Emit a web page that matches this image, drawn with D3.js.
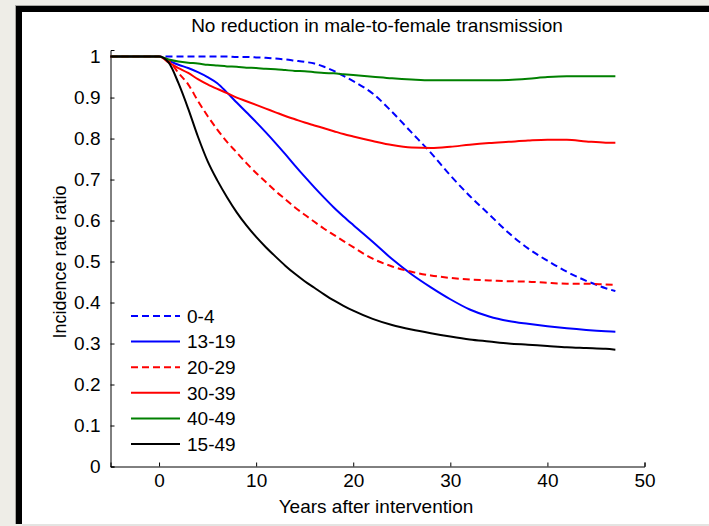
<!DOCTYPE html>
<html><head><meta charset="utf-8">
<script src="https://cdn.jsdelivr.net/npm/d3@7"></script>
<style>
html,body{margin:0;padding:0;background:#eeede7;}
svg{display:block;}
text{font-family:"Liberation Sans",Arial,Helvetica,sans-serif;fill:#000;}
</style></head>
<body><svg id="c" width="709" height="526"></svg>
<script>
const title = "No reduction in male-to-female transmission";
const xLabel = "Years after intervention";
const yLabel = "Incidence rate ratio";
const xTicks = [0,10,20,30,40,50];
const yTicks = [0,0.1,0.2,0.3,0.4,0.5,0.6,0.7,0.8,0.9,1];
const years = [-5,0,1,2,3,4,5,6,7,8,9,10,11,12,13,14,15,16,17,18,19,20,22,24,26,28,30,32,34,36,38,40,42,44,46,47];
const seriesNames = ["0-4","13-19","20-29","30-39","40-49","15-49"];
const s04   = [1,1,1,1,1,1,1,1,1,0.999,0.999,0.998,0.997,0.995,0.993,0.99,0.987,0.983,0.975,0.965,0.953,0.94,0.91,0.865,0.815,0.765,0.71,0.66,0.615,0.57,0.532,0.502,0.475,0.453,0.435,0.428];
const s1319 = [1,1,0.99,0.98,0.972,0.962,0.95,0.935,0.912,0.888,0.864,0.84,0.815,0.789,0.762,0.734,0.707,0.681,0.656,0.632,0.61,0.589,0.548,0.506,0.469,0.437,0.408,0.383,0.366,0.355,0.348,0.342,0.337,0.333,0.33,0.329];
const s2029 = [1,1,0.99,0.96,0.932,0.892,0.855,0.822,0.792,0.766,0.74,0.716,0.694,0.672,0.652,0.632,0.614,0.597,0.58,0.565,0.55,0.535,0.507,0.488,0.475,0.466,0.46,0.456,0.454,0.452,0.451,0.448,0.446,0.446,0.444,0.443];
const s3039 = [1,1,0.985,0.972,0.96,0.945,0.932,0.921,0.911,0.9,0.891,0.882,0.873,0.864,0.855,0.847,0.839,0.832,0.825,0.818,0.811,0.805,0.794,0.784,0.778,0.777,0.78,0.785,0.789,0.792,0.795,0.797,0.797,0.793,0.79,0.79];
const s4049 = [1,1,0.993,0.988,0.985,0.983,0.98,0.978,0.976,0.975,0.973,0.972,0.97,0.969,0.967,0.965,0.964,0.962,0.96,0.959,0.957,0.955,0.951,0.947,0.944,0.942,0.942,0.942,0.942,0.943,0.946,0.95,0.952,0.952,0.952,0.952];
const s1549 = [1,1,0.985,0.935,0.873,0.805,0.745,0.698,0.657,0.62,0.588,0.56,0.535,0.512,0.49,0.47,0.452,0.436,0.42,0.405,0.392,0.38,0.36,0.345,0.334,0.325,0.317,0.31,0.305,0.3,0.297,0.294,0.291,0.289,0.287,0.285];
const seriesValues = [s04,s1319,s2029,s3039,s4049,s1549];
const colors = ["#0000ff","#0000ff","#ff0000","#ff0000","#008000","#000000"];
const dashed = [true,false,true,false,false,false];

const svg = d3.select("#c");
// frame
svg.append("rect").attr("x",15).attr("y",5).attr("width",694).attr("height",519).attr("fill","#a8a8a4");
svg.append("rect").attr("x",16).attr("y",6).attr("width",693).attr("height",518).attr("fill","#000");
svg.append("rect").attr("x",22).attr("y",12).attr("width",687).attr("height",512).attr("fill","#fff");
svg.append("rect").attr("x",22).attr("y",524).attr("width",687).attr("height",2).attr("fill","#e4e4e2");

const x = d3.scaleLinear().domain([-5,50]).range([110.5,644.5]);
const y = d3.scaleLinear().domain([0,1.016]).range([466.5,50]);
const FS = 19;

// axes
const xAxis = d3.axisBottom(x).tickValues(xTicks).tickSize(-4).tickPadding(6).tickFormat(d3.format("d"));
const gx = svg.append("g").attr("transform","translate(0,466.5)").call(xAxis);
const yAxis = d3.axisLeft(y).tickValues(yTicks).tickSize(-4).tickPadding(10).tickFormat(d=>String(d));
const gy = svg.append("g").attr("transform","translate(110.5,0)").call(yAxis);
[gx,gy].forEach(g=>{
  g.select(".domain").attr("stroke","#000").attr("stroke-width",1);
  g.selectAll(".tick line").attr("stroke","#000");
  g.selectAll("text").attr("font-size",FS).attr("font-family","Liberation Sans, Arial, sans-serif").attr("fill","#000");
});
gx.selectAll("text").attr("dy","0.75em");

// lines
const line = d3.line().x((d,i)=>x(years[i])).y(d=>y(d)).curve(d3.curveMonotoneX);
seriesValues.forEach((vals,k)=>{
  svg.append("path").datum(vals).attr("d",line).attr("fill","none")
    .attr("stroke",colors[k]).attr("stroke-width",2)
    .attr("stroke-dasharray",dashed[k]?"7,4":null);
});

// legend
const lg = svg.append("g");
seriesNames.forEach((n,k)=>{
  const yy = 316 + k*25.6;
  lg.append("line").attr("x1",131).attr("x2",180).attr("y1",yy).attr("y2",yy)
    .attr("stroke",colors[k]).attr("stroke-width",2).attr("stroke-dasharray",dashed[k]?"7,4":null);
  lg.append("text").attr("x",187).attr("y",yy).attr("dy","0.36em").attr("font-size",FS).text(n);
});

// titles
svg.append("text").attr("x",377).attr("y",32).attr("text-anchor","middle").attr("font-size",FS).text(title);
svg.append("text").attr("x",376).attr("y",513).attr("text-anchor","middle").attr("font-size",FS).text(xLabel);
svg.append("text").attr("transform","translate(66,262) rotate(-90)").attr("text-anchor","middle").attr("font-size",18).text(yLabel);
</script></body></html>
